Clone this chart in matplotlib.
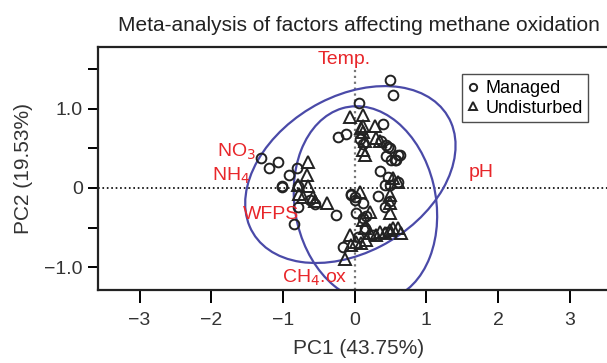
import matplotlib
matplotlib.use("Agg")
import matplotlib.pyplot as plt
from matplotlib.patches import Ellipse

plt.rcParams['font.family'] = ['Liberation Sans', 'DejaVu Sans']

# PCA scores
managed_x = [0.49, 0.54, 0.06, -0.23, -0.12, 0.39, 0.37, 0.47, 0.44, 0.51, 0.63, 0.58,
             0.35, 0.46, 0.49, 0.60, 0.33, 0.42, 0.49, -1.30, -1.20, -1.07, -0.91, -1.02,
             -1.01, -0.81, -0.79, -0.79, -0.85, -0.63, -0.56, -0.26, -0.05, 0.00, 0.02,
             0.12, 0.16, 0.14, -0.16, 0.44, 0.49, 0.60, 0.56, 0.08, 0.11, -0.05, 0.00,
             0.12, 0.42, 0.05, 0.25, 0.45]
managed_y = [1.36, 1.17, 1.07, 0.65, 0.68, 0.81, 0.59, 0.52, 0.40, 0.35, 0.42, 0.35,
             0.21, 0.14, 0.04, 0.08, -0.10, -0.24, -0.17, 0.38, 0.25, 0.33, 0.16, 0.03,
             0.01, 0.25, 0.02, -0.24, -0.46, -0.15, -0.20, -0.34, -0.09, -0.15, -0.32,
             -0.19, -0.36, -0.51, -0.74, 0.54, 0.50, 0.42, 0.35, 0.62, 0.55, -0.07, -0.11,
             -0.38, 0.04, -0.62, -0.60, -0.55]

undist_x = [-0.07, 0.12, 0.12, 0.12, 0.14, 0.15, 0.28, 0.35, -0.65, -0.67, -0.65, -0.79,
            -0.77, -0.58, -0.39, 0.07, 0.49, 0.49, 0.49, 0.53, 0.60, 0.21, 0.12, 0.14,
            -0.07, -0.05, 0.02, 0.09, 0.16, 0.21, 0.30, 0.35, 0.42, 0.49, 0.53, 0.60,
            0.65, -0.14, -0.72, -0.56, 0.09, 0.12, 0.30]
undist_y = [0.90, 0.92, 0.78, 0.71, 0.59, 0.42, 0.78, 0.59, 0.33, 0.16, 0.02, 0.04,
            -0.07, -0.11, -0.19, -0.05, -0.09, -0.19, -0.32, 0.13, 0.08, -0.30, -0.41, -0.51,
            -0.59, -0.72, -0.68, -0.70, -0.66, -0.57, -0.59, -0.55, -0.57, -0.53, -0.51, -0.51,
            -0.57, -0.90, -0.11, -0.17, 0.76, 0.48, 0.63]

# group ellipses: centre x, centre y, width, height, angle
ell_cx = [-0.06, 0.15]
ell_cy = [0.17, -0.20]
ell_w = [3.10, 1.96]
ell_h = [2.00, 2.50]
ell_ang = [25, 15]

# variable labels
var_names = ['Temp.', 'NO$_3$', 'NH$_4$', 'WFPS', 'CH$_4$.ox', 'pH']
var_x = [-0.14, -1.65, -1.72, -1.16, -0.56, 1.77]
var_y = [1.62, 0.46, 0.15, -0.34, -1.13, 0.20]

fig = plt.figure(figsize=(6.07, 3.63), dpi=100)
ax = fig.add_axes([0.1614, 0.201, 0.86, 0.669])

ax.axhline(0, color='black', ls=':', lw=1.2, zorder=1)
ax.plot([0, 0], [-1.29, 1.52], color='#777777', ls=':', lw=1.6, zorder=1)

for cx, cy, w, h, a in zip(ell_cx, ell_cy, ell_w, ell_h, ell_ang):
    ax.add_patch(Ellipse((cx, cy), w, h, angle=a, fill=False,
                         edgecolor='#4a4aa8', lw=1.6, zorder=2))

ax.plot(managed_x, managed_y, 'o', ms=7, mfc='none', mec='#222222', mew=1.4,
        label='Managed', zorder=3)
ax.plot(undist_x, undist_y, '^', ms=8, mfc='none', mec='#222222', mew=1.4,
        label='Undisturbed', zorder=3)

for name, x, y in zip(var_names, var_x, var_y):
    ax.text(x, y, name, color='#e8262a', fontsize=14, ha='center', va='center')

ax.set_xlim(-3.58, 3.70)
ax.set_ylim(-1.29, 1.78)
ax.set_xticks([-3, -2, -1, 0, 1, 2, 3])
ax.set_xticklabels(['\u22123', '\u22122', '\u22121', '0', '1', '2', '3'])
ax.set_yticks([-1, -0.5, 0, 0.5, 1, 1.5])
ax.set_yticklabels(['\u22121.0', '', '0', '', '1.0', ''])
ax.tick_params(axis='x', direction='out', length=9, width=1.4, labelsize=14, pad=7,
               labelcolor='#333333')
ax.tick_params(axis='y', direction='out', length=7, width=1.4, labelsize=14, pad=4,
               labelcolor='#333333')
for s in ['left', 'bottom', 'top']:
    ax.spines[s].set_linewidth(1.6)
    ax.spines[s].set_color('#222222')
ax.spines['right'].set_visible(False)

ax.set_xlabel('PC1 (43.75%)', fontsize=15, color='#333333', labelpad=7)
ax.set_ylabel('PC2 (19.53%)', fontsize=15, color='#333333', labelpad=8)
ax.set_title('Meta-analysis of factors affecting methane oxidation', fontsize=15,
             color='#222222', pad=12)

leg = ax.legend(loc='upper left', bbox_to_anchor=(0.68, 0.925), fontsize=13,
                frameon=True, fancybox=False, edgecolor='#222222', handlelength=0.6,
                handletextpad=0.4, borderpad=0.3, labelspacing=0.15, markerscale=0.75)
leg.get_frame().set_linewidth(1.0)

fig.savefig('out.png', dpi=100)
